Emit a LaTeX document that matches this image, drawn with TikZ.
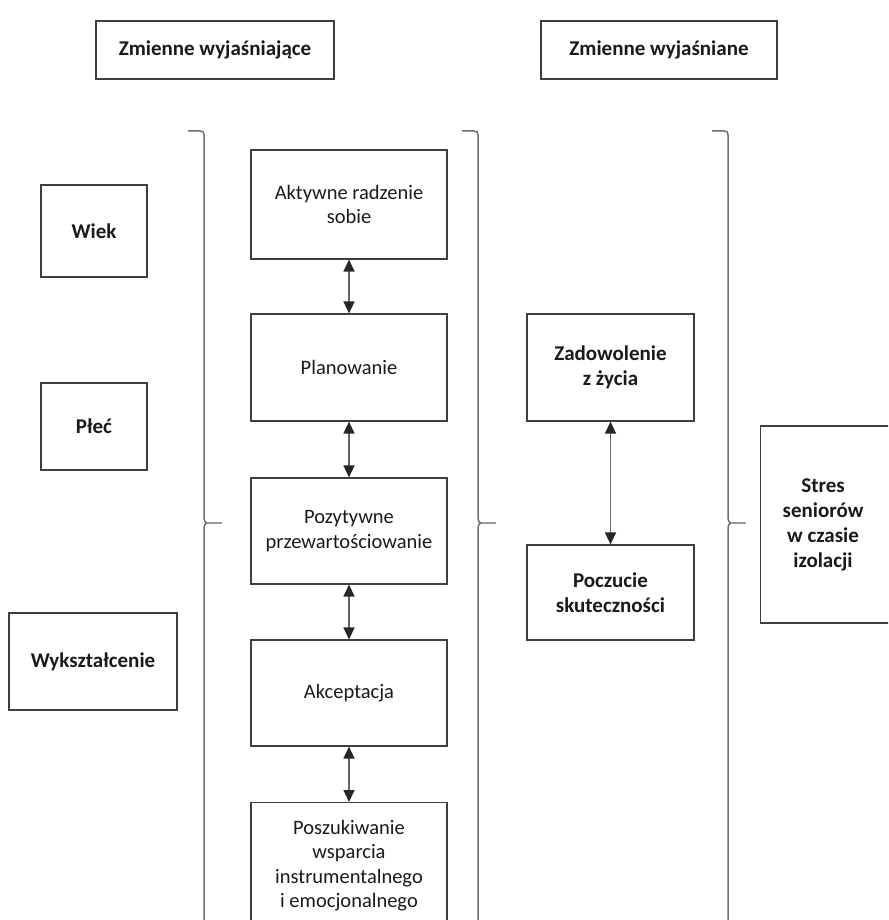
\documentclass[tikz,border=0pt]{standalone}
\usepackage{fontspec}
\setmainfont{Carlito}
\usetikzlibrary{arrows.meta}
\definecolor{boxline}{HTML}{3F3F3F}
\definecolor{txt}{HTML}{1A1A1A}
\definecolor{arrline}{HTML}{666666}
\definecolor{braceline}{HTML}{707070}
\definecolor{tickline}{HTML}{9A9A9A}
\begin{document}
\begin{tikzpicture}[x=1pt,y=-1pt,
  box/.style={draw=boxline, line width=1.2pt, rectangle, align=center, text=txt,
    font=\fontsize{20.5}{24.5}\selectfont, inner sep=2pt},
  bbox/.style={box, font=\fontsize{21}{25}\selectfont\bfseries},
  biarrow/.style={draw=arrline, line width=1.3pt,
    {Triangle[width=11pt,length=12pt,color=black!85]}-{Triangle[width=11pt,length=12pt,color=black!85]}},
  bracepath/.style={draw=braceline, line width=1.5pt},
  bracetick/.style={draw=tickline, line width=1.5pt}]
\useasboundingbox (0,0) rectangle (888,920);
\clip (0,0) rectangle (888,920);
\fill[white] (0,0) rectangle (888,920);

% header boxes
\node[bbox, minimum width=238pt, minimum height=58pt] (t1) at (215,50) {Zmienne wyjaśniające};
\node[bbox, minimum width=236pt, minimum height=58pt] (t2) at (659,50) {Zmienne wyjaśniane};

% left column
\node[bbox, minimum width=106pt, minimum height=92pt] (wiek) at (94,231) {Wiek};
\node[bbox, minimum width=106pt, minimum height=87pt] (plec) at (94,426.5) {Płeć};
\node[bbox, minimum width=168pt, minimum height=97pt] (wyk) at (93,661.5) {Wykształcenie};

% middle column
\node[box, minimum width=196pt, minimum height=109pt] (m1) at (349,204.5) {Aktywne radzenie\\sobie};
\node[box, minimum width=196pt, minimum height=107pt] (m2) at (349,367.5) {Planowanie};
\node[box, minimum width=196pt, minimum height=106pt] (m3) at (349,531) {Pozytywne\\przewartościowanie};
\node[box, minimum width=196pt, minimum height=106pt] (m4) at (349,693) {Akceptacja};
\node[box, minimum width=196pt, minimum height=240pt, anchor=north] (m5) at (349,802) {};
\node[align=center, font=\fontsize{20.5}{24.5}\selectfont, text=txt] (m5t) at (349,865.5) {Poszukiwanie\\wsparcia\\instrumentalnego\\i emocjonalnego};

% right-middle column
\node[bbox, minimum width=167pt, minimum height=107pt] (zad) at (610.5,367.5) {Zadowolenie\\z życia};
\node[bbox, minimum width=167pt, minimum height=95pt] (pocz) at (610.5,592.5) {Poczucie\\skuteczności};

% right column
\node[bbox, minimum width=132pt, minimum height=197pt, anchor=west] (stres) at (760,524.5) {};
\node[font=\fontsize{21}{25}\selectfont\bfseries, text=txt, align=center] (strest) at (823,524.5) {Stres\\seniorów\\w czasie\\izolacji};

% arrows
\draw[biarrow] (m1.south) -- (m2.north);
\draw[biarrow] (m2.south) -- (m3.north);
\draw[biarrow] (m3.south) -- (m4.north);
\draw[biarrow] (m4.south) -- (m5.north);
\draw[biarrow] (zad.south) -- (pocz.north);

% braces
\foreach \xa/\xb in {188/204, 462/478, 712/728}{
  \draw[bracepath] (\xa,131) -- (\xb-4,131) .. controls (\xb-1,131) and (\xb,132) .. (\xb,135)
     -- (\xb,516) .. controls (\xb,520) and (\xb+1,523) .. (\xb+3,523)
     .. controls (\xb+1,523) and (\xb,526) .. (\xb,530) -- (\xb,930);
  \draw[bracetick] (\xb+3,523) -- (\xb+18,523);
}
\end{tikzpicture}
\end{document}
